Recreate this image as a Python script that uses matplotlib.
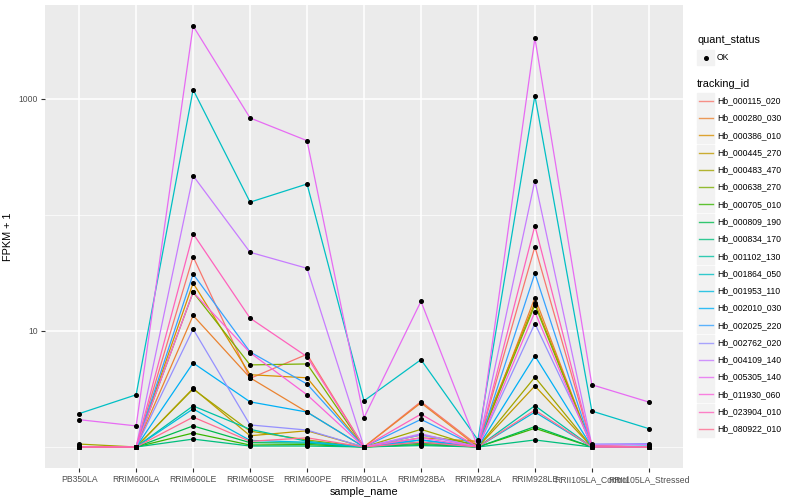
import matplotlib
matplotlib.use('Agg')
import matplotlib.pyplot as plt
from matplotlib.ticker import NullFormatter
import numpy as np

plt.rcParams['font.family'] = ['Liberation Sans', 'DejaVu Sans']

# categories on x
samples = ['PB350LA', 'RRIM600LA', 'RRIM600LE', 'RRIM600SE', 'RRIM600PE',
           'RRIM901LA', 'RRIM928BA', 'RRIM928LA', 'RRIM928LE',
           'RRII105LA_Control', 'RRII105LA_Stressed']

tracking_ids = ['Hb_000115_020', 'Hb_000280_030', 'Hb_000386_010', 'Hb_000445_270',
                'Hb_000483_470', 'Hb_000638_270', 'Hb_000705_010', 'Hb_000809_190',
                'Hb_000834_170', 'Hb_001102_130', 'Hb_001864_050', 'Hb_001953_110',
                'Hb_002010_030', 'Hb_002025_220', 'Hb_002762_020', 'Hb_004109_140',
                'Hb_005305_140', 'Hb_011930_060', 'Hb_023904_010', 'Hb_080922_010']

# FPKM + 1, one list per tracking_id
fpkm = [
    [1.0, 1.0, 43.7, 3.9, 6.3, 1.0, 2.46, 1.03, 53.3, 1.03, 1.0],     # 000115_020
    [1.0, 1.0, 13.6, 3.95, 2.0, 1.0, 2.4, 1.0, 19.4, 1.0, 1.0],       # 000280_030
    [1.0, 1.0, 25.9, 4.2, 3.95, 1.0, 1.2, 1.12, 17.6, 1.02, 1.0],     # 000386_010
    [1.0, 1.0, 3.2, 1.25, 1.38, 1.0, 1.1, 1.0, 3.36, 1.0, 1.0],       # 000445_270
    [1.06, 1.0, 3.16, 1.37, 1.15, 1.0, 1.42, 1.0, 4.0, 1.0, 1.0],     # 000483_470
    [1.0, 1.0, 21.6, 5.1, 5.2, 1.0, 1.27, 1.05, 16.8, 1.0, 1.0],      # 000638_270
    [1.0, 1.0, 1.32, 1.04, 1.05, 1.0, 1.05, 1.0, 1.45, 1.0, 1.0],     # 000705_010
    [1.0, 1.0, 1.52, 1.09, 1.08, 1.0, 1.08, 1.0, 1.5, 1.0, 1.0],      # 000809_190
    [1.0, 1.0, 1.17, 1.02, 1.02, 1.0, 1.03, 1.0, 1.15, 1.0, 1.0],     # 000834_170
    [1.0, 1.0, 2.26, 1.42, 1.12, 1.0, 1.1, 1.0, 2.27, 1.0, 1.0],      # 001102_130
    [1.94, 2.82, 1203, 129, 185, 2.5, 5.66, 1.15, 1067, 2.04, 1.44],  # 001864_050
    [1.0, 1.0, 2.13, 1.14, 1.1, 1.0, 1.15, 1.0, 2.0, 1.0, 1.02],      # 001953_110
    [1.0, 1.0, 5.3, 2.45, 2.0, 1.0, 1.15, 1.0, 6.1, 1.0, 1.0],        # 002010_030
    [1.0, 1.0, 31.0, 6.6, 3.49, 1.0, 1.73, 1.0, 31.4, 1.0, 1.0],      # 002025_220
    [1.0, 1.0, 10.4, 1.55, 1.4, 1.0, 1.27, 1.0, 11.6, 1.06, 1.07],    # 002762_020
    [1.0, 1.0, 218, 47.7, 34.7, 1.0, 1.3, 1.0, 198, 1.04, 1.05],      # 004109_140
    [1.72, 1.52, 4257, 686, 437, 1.79, 18.0, 1.0, 3357, 3.44, 2.44],  # 005305_140
    [1.0, 1.0, 21.6, 6.5, 2.82, 1.0, 1.2, 1.0, 14.6, 1.0, 1.0],       # 011930_060
    [1.0, 1.0, 69.0, 12.9, 6.0, 1.0, 1.92, 1.0, 80.9, 1.02, 1.0],     # 023904_010
    [1.0, 1.0, 1.81, 1.12, 1.2, 1.0, 1.1, 1.0, 2.08, 1.0, 1.0],       # 080922_010
]

# ggplot2 default hue palette for 20 levels
colors = ['#F8766D', '#EA8331', '#D89000', '#C09B00', '#A3A500', '#7CAE00',
          '#39B600', '#00BB4E', '#00BF7D', '#00C1A3', '#00BFC4', '#00BAE0',
          '#00B0F6', '#35A2FF', '#9590FF', '#C77CFF', '#E76BF3', '#FA62DB',
          '#FF62BC', '#FF6C91']

W, H = 800, 500
fig = plt.figure(figsize=(8, 5), dpi=100, facecolor='white')
ax = fig.add_axes([45/W, 1-468/H, (683-45)/W, (468-5)/H])
ax.set_facecolor('#EBEBEB')

x = np.arange(len(samples))
for vals, c in zip(fpkm, colors):
    ax.plot(x, vals, color=c, lw=0.9, zorder=2)
for vals in fpkm:
    ax.plot(x, vals, 'o', color='black', ms=2.6, zorder=3)

ax.set_yscale('log')
ax.set_ylim(10**-0.181, 10**3.81)
ax.set_xlim(-0.6, len(samples) - 0.4)
ax.set_yticks([10, 1000])
ax.set_yticklabels(['10', '1000'])
ax.set_yticks([1, 100], minor=True)
ax.yaxis.set_minor_formatter(NullFormatter())
ax.set_xticks(x)
ax.set_xticklabels(samples)
ax.grid(True, which='major', color='white', lw=1.1, zorder=0)
ax.grid(True, which='minor', axis='y', color='white', lw=0.5, zorder=0)
ax.set_axisbelow(True)
for s in ax.spines.values():
    s.set_visible(False)
ax.tick_params(axis='both', which='major', length=3, width=0.8, color='#333333',
               labelsize=6.2, labelcolor='#4D4D4D', pad=2)
ax.tick_params(axis='y', which='minor', length=0)
ax.set_xlabel('sample_name', fontsize=7.8, labelpad=2)
ax.set_ylabel('FPKM + 1', fontsize=7.8)
ax.yaxis.set_label_coords(-32/638, 0.5)

# legends drawn in a pixel-space axes
lg = fig.add_axes([0, 0, 1, 1])
lg.set_xlim(0, W)
lg.set_ylim(H, 0)
lg.axis('off')
lg.patch.set_alpha(0)

lg.text(697, 40, 'quant_status', fontsize=7.8, va='center', ha='left')
lg.add_patch(plt.Rectangle((697, 50), 17, 15, color='#F2F2F2'))
lg.plot(705.5, 57.5, 'o', color='black', ms=2.6)
lg.text(717, 57.5, 'OK', fontsize=6.2, va='center', ha='left')

lg.text(697, 84, 'tracking_id', fontsize=7.8, va='center', ha='left')
y0, dy = 100.7, 17.28
for i, (tid, c) in enumerate(zip(tracking_ids, colors)):
    yy = y0 + i * dy
    lg.add_patch(plt.Rectangle((697, yy - 8), 17, 16, color='#F2F2F2'))
    lg.plot([698.5, 712.5], [yy, yy], color=c, lw=1.0, alpha=0.8)
    lg.text(717, yy, tid, fontsize=6.2, va='center', ha='left')

fig.savefig('out.png', dpi=100)
